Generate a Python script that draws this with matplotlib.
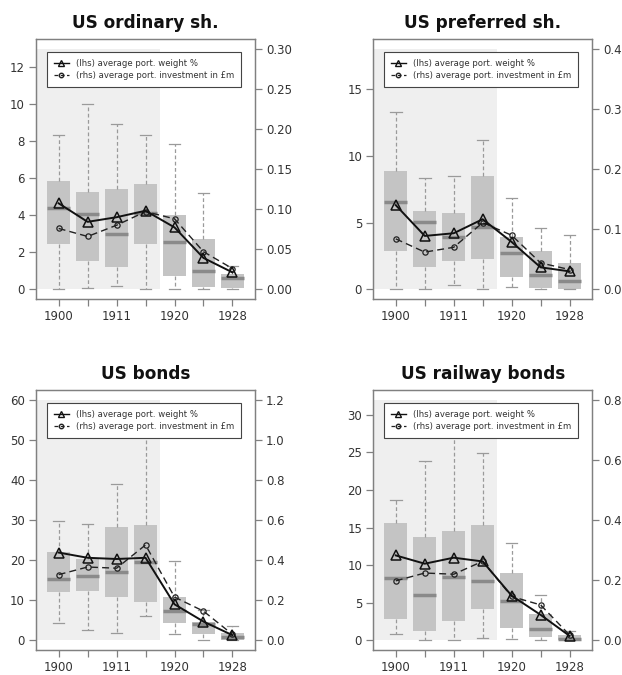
import matplotlib
matplotlib.use('Agg')
import matplotlib.pyplot as plt
from matplotlib.lines import Line2D
from matplotlib.patches import Rectangle

years = ['1900', '', '1911', '', '1920', '', '1928']
titles = ['US ordinary sh.', 'US preferred sh.', 'US bonds', 'US railway bonds']

# box stats per panel: whisker low, Q1, median, Q3, whisker high
ord_lo = [0.0, 0.1, 0.2, 0.0, 0.0, 0.0, 0.0]
ord_q1 = [2.46, 1.55, 1.2, 2.45, 0.72, 0.15, 0.08]
ord_med = [4.42, 4.05, 3.0, 4.15, 2.55, 1.0, 0.62]
ord_q3 = [5.84, 5.25, 5.42, 5.68, 4.0, 2.7, 0.85]
ord_hi = [8.32, 9.99, 8.95, 8.35, 7.85, 5.2, 1.25]
ord_w = [4.65, 3.65, 3.9, 4.25, 3.35, 1.7, 0.92]
ord_inv = [0.076, 0.066, 0.080, 0.097, 0.088, 0.047, 0.026]

pre_lo = [0.0, 0.05, 0.3, 0.0, 0.2, 0.0, 0.0]
pre_q1 = [2.9, 1.7, 2.15, 2.25, 0.95, 0.1, 0.0]
pre_med = [6.55, 5.05, 3.95, 4.65, 2.7, 1.05, 0.65]
pre_q3 = [8.85, 5.9, 5.7, 8.45, 3.9, 2.9, 2.0]
pre_hi = [13.3, 8.3, 8.5, 11.15, 6.85, 4.6, 4.1]
pre_w = [6.3, 4.0, 4.2, 5.25, 3.55, 1.65, 1.35]
pre_inv = [0.084, 0.062, 0.070, 0.111, 0.090, 0.044, 0.033]

bnd_lo = [4.3, 2.7, 1.8, 6.2, 1.5, 0.0, 0.0]
bnd_q1 = [12.0, 12.3, 10.9, 9.5, 4.3, 1.5, 0.2]
bnd_med = [15.2, 16.0, 17.1, 19.6, 7.4, 4.0, 0.9]
bnd_q3 = [22.0, 20.3, 28.3, 28.7, 10.8, 4.6, 1.8]
bnd_hi = [29.7, 28.9, 39.1, 58.0, 19.8, 7.7, 3.5]
bnd_w = [21.9, 20.6, 20.3, 20.6, 9.0, 4.7, 1.3]
bnd_inv = [0.328, 0.366, 0.360, 0.476, 0.216, 0.146, 0.030]

rail_lo = [0.8, 0.0, 0.0, 0.3, 0.2, 0.0, 0.0]
rail_q1 = [2.9, 1.3, 2.6, 4.2, 1.6, 0.4, 0.1]
rail_med = [8.3, 6.0, 8.4, 7.95, 5.2, 1.45, 0.25]
rail_q3 = [15.6, 13.8, 14.5, 15.3, 9.0, 3.5, 0.7]
rail_hi = [18.7, 23.9, 30.0, 24.9, 12.9, 6.1, 1.2]
rail_w = [11.3, 10.2, 11.0, 10.5, 5.95, 3.4, 0.6]
rail_inv = [0.198, 0.224, 0.220, 0.263, 0.146, 0.118, 0.018]

panels = [
    (ord_lo, ord_q1, ord_med, ord_q3, ord_hi, ord_w, ord_inv, 13, 0.30, [0, 2, 4, 6, 8, 10, 12], [0, 0.05, 0.10, 0.15, 0.20, 0.25, 0.30], '%.2f'),
    (pre_lo, pre_q1, pre_med, pre_q3, pre_hi, pre_w, pre_inv, 18, 0.40, [0, 5, 10, 15], [0, 0.1, 0.2, 0.3, 0.4], '%.1f'),
    (bnd_lo, bnd_q1, bnd_med, bnd_q3, bnd_hi, bnd_w, bnd_inv, 60, 1.2, [0, 10, 20, 30, 40, 50, 60], [0, 0.2, 0.4, 0.6, 0.8, 1.0, 1.2], '%.1f'),
    (rail_lo, rail_q1, rail_med, rail_q3, rail_hi, rail_w, rail_inv, 32, 0.8, [0, 5, 10, 15, 20, 25, 30], [0, 0.2, 0.4, 0.6, 0.8], '%.1f'),
]

positions = [(0.058, 0.557), (0.600, 0.557), (0.058, 0.037), (0.600, 0.037)]
fw, fh = 0.352, 0.385
frame = '#808080'
txt = '#333333'

fig = plt.figure(figsize=(6.22, 6.75), dpi=100)
x = list(range(1, 8))

for i, (lo, q1, med, q3, hi, w, inv, ymax, rmax, lt, rt, rfmt) in enumerate(panels):
    ax = fig.add_axes([positions[i][0], positions[i][1], fw, fh])
    ax.set_xlim(0.22, 7.78)
    ax.set_ylim(-0.04 * ymax, 1.04 * ymax)
    ax.add_patch(Rectangle((0.25, 0), 4.25, ymax, facecolor='#efefef', edgecolor='none', zorder=0))
    stats = [dict(whislo=lo[k], q1=q1[k], med=med[k], q3=q3[k], whishi=hi[k], fliers=[]) for k in range(7)]
    ax.bxp(stats, positions=x, widths=0.78, patch_artist=True, showfliers=False, capwidths=0.4,
           boxprops=dict(facecolor='#c4c4c4', edgecolor='none'),
           medianprops=dict(color='#8a8a8a', linewidth=2.5, solid_capstyle='butt'),
           whiskerprops=dict(color='#9a9a9a', linestyle=(0, (3, 2)), linewidth=0.9),
           capprops=dict(color='#9a9a9a', linewidth=0.9))
    ax.set_xticks(x)
    ax.set_xticklabels(years)
    ax.set_yticks(lt)
    ax.set_title(titles[i], fontsize=12.2, fontweight='bold', pad=8, color='#111111')

    ax2 = ax.twinx()
    ax2.set_ylim(-0.04 * rmax, 1.04 * rmax)
    ax2.set_yticks(rt)
    ax2.set_yticklabels([rfmt % v for v in rt])
    ax2.plot(x, inv, color='#222222', linestyle=(0, (5, 3)), linewidth=1.0, marker='o',
             markersize=3.8, markerfacecolor='none', markeredgecolor='#222222', markeredgewidth=0.9)
    ax2.plot(x, w, color='#111111', linewidth=1.4, marker='^', markersize=6.8,
             markerfacecolor='none', markeredgecolor='#111111', markeredgewidth=1.1,
             transform=ax.transData)

    for a in (ax, ax2):
        for s in a.spines.values():
            s.set_color(frame)
            s.set_linewidth(0.9)
        a.tick_params(colors=frame, labelcolor=txt, labelsize=8.5, length=5, width=0.9, pad=3)

    handles = [Line2D([], [], color='#111111', linewidth=1.0, marker='^', markersize=4.5,
                      markerfacecolor='none'),
               Line2D([], [], color='#222222', linestyle=(0, (3, 2)), linewidth=0.9, marker='o',
                      markersize=3.2, markerfacecolor='none')]
    leg = ax2.legend(handles, ['(lhs) average port. weight %', '(rhs) average port. investment in £m'],
                     loc='upper left', bbox_to_anchor=(0.04, 0.96), fontsize=6.1, handlelength=1.7,
                     handletextpad=0.9, borderpad=0.8, labelspacing=0.4, fancybox=False,
                     framealpha=1, labelcolor=txt, borderaxespad=0.3)
    leg.get_frame().set_edgecolor('#444444')
    leg.get_frame().set_linewidth(0.8)

fig.savefig('out.png', dpi=100)
